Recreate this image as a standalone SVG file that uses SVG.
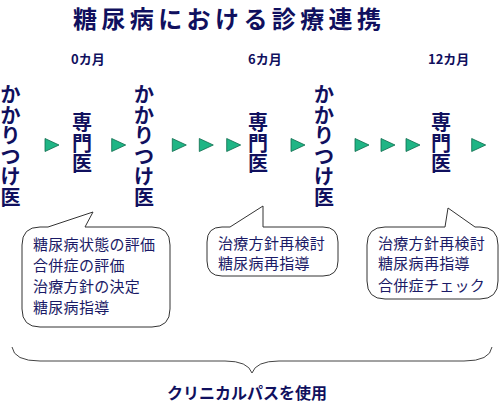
<svg xmlns="http://www.w3.org/2000/svg" xmlns:xlink="http://www.w3.org/1999/xlink" width="500" height="403" viewBox="0 0 500 403">
<style>
  text { font-family: "Noto Sans CJK JP", "Liberation Sans", sans-serif; fill: #10105e; }
  .title { font-size: 24px; font-weight: 700; letter-spacing: 4.4px; }
  .month { font-size: 13px; font-weight: 700; }
  .node { font-size: 20px; font-weight: 700; text-anchor: middle; }
  .note { font-size: 15px; font-weight: 400; letter-spacing: 0.3px; fill: #1a1a66; }
  .bubble { fill: #ffffff; stroke: #333333; stroke-width: 1; }
  .arrow { fill: #1fb585; stroke: #0e6b4c; stroke-width: 0.8; }
  .brace { fill: none; stroke: #444444; stroke-width: 1; }
  .foot { font-size: 16px; font-weight: 700; }
</style>
<defs>
  <path id="tri" d="M0,-6.5 L14,0 L0,6.5 Z"/>
</defs>
<rect width="500" height="403" fill="#ffffff"/>

<text class="title" x="73" y="28">糖尿病における診療連携</text>

<g id="months">
  <text class="month" x="71" y="64">0カ月</text>
  <text class="month" x="248" y="64">6カ月</text>
  <text class="month" x="428" y="64">12カ月</text>
</g>

<g id="kakaritsuke1">
  <text class="node"><tspan x="10.5" y="102">か</tspan><tspan x="10.5" dy="20.6">か</tspan><tspan x="10.5" dy="20.6">り</tspan><tspan x="10.5" dy="20.6">つ</tspan><tspan x="10.5" dy="20.6">け</tspan><tspan x="10.5" dy="20.6">医</tspan></text>
</g>
<g id="senmon1">
  <text class="node"><tspan x="82" y="130">専</tspan><tspan x="82" dy="20.5">門</tspan><tspan x="82" dy="20.5">医</tspan></text>
</g>
<g id="kakaritsuke2">
  <text class="node"><tspan x="144" y="102">か</tspan><tspan x="144" dy="20.6">か</tspan><tspan x="144" dy="20.6">り</tspan><tspan x="144" dy="20.6">つ</tspan><tspan x="144" dy="20.6">け</tspan><tspan x="144" dy="20.6">医</tspan></text>
</g>
<g id="senmon2">
  <text class="node"><tspan x="258" y="130">専</tspan><tspan x="258" dy="20.5">門</tspan><tspan x="258" dy="20.5">医</tspan></text>
</g>
<g id="kakaritsuke3">
  <text class="node"><tspan x="324" y="102">か</tspan><tspan x="324" dy="20.6">か</tspan><tspan x="324" dy="20.6">り</tspan><tspan x="324" dy="20.6">つ</tspan><tspan x="324" dy="20.6">け</tspan><tspan x="324" dy="20.6">医</tspan></text>
</g>
<g id="senmon3">
  <text class="node"><tspan x="441" y="130">専</tspan><tspan x="441" dy="20.5">門</tspan><tspan x="441" dy="20.5">医</tspan></text>
</g>

<g id="connectors">
  <use xlink:href="#tri" class="arrow" x="45" y="145"/>
  <use xlink:href="#tri" class="arrow" x="111.7" y="145"/>
  <use xlink:href="#tri" class="arrow" x="172.3" y="145"/>
  <use xlink:href="#tri" class="arrow" x="199.3" y="145"/>
  <use xlink:href="#tri" class="arrow" x="226.7" y="145"/>
  <use xlink:href="#tri" class="arrow" x="291" y="145"/>
  <use xlink:href="#tri" class="arrow" x="355" y="145"/>
  <use xlink:href="#tri" class="arrow" x="381" y="145"/>
  <use xlink:href="#tri" class="arrow" x="406" y="145"/>
  <use xlink:href="#tri" class="arrow" x="471.7" y="145"/>
</g>

<g id="note1">
  <path class="bubble" d="M40,227 L48,227 L93,212 L85,227 L152,227 Q170,227 170,245 L170,309 Q170,327 152,327 L40,327 Q22,327 22,309 L22,245 Q22,227 40,227 Z"/>
  <text class="note" x="33" y="250">糖尿病状態の評価</text>
  <text class="note" x="33" y="271">合併症の評価</text>
  <text class="note" x="33" y="292">治療方針の決定</text>
  <text class="note" x="33" y="313">糖尿病指導</text>
</g>
<g id="note2">
  <path class="bubble" d="M222,227 L230,227 L263,206 L263,227 L323,227 Q338,227 338,242 L338,261 Q338,276 323,276 L222,276 Q207,276 207,261 L207,242 Q207,227 222,227 Z"/>
  <text class="note" x="218" y="248.5">治療方針再検討</text>
  <text class="note" x="218" y="268.5">糖尿病再指導</text>
</g>
<g id="note3">
  <path class="bubble" d="M385,227 L445,227 L448,208 L475,227 L480,227 Q498,227 498,245 L498,281 Q498,299 480,299 L385,299 Q367,299 367,281 L367,245 Q367,227 385,227 Z"/>
  <text class="note" x="378" y="248.5">治療方針再検討</text>
  <text class="note" x="378" y="269">糖尿病再指導</text>
  <text class="note" x="378" y="290.5">合併症チェック</text>
</g>

<g id="clinical-path">
  <path class="brace" d="M12,347 Q14,361 40,361 L225,361 Q248,361 252,373 Q256,361 279,361 L464,361 Q490,361 492,347"/>
  <text class="foot" x="167" y="399">クリニカルパスを使用</text>
</g>
</svg>
